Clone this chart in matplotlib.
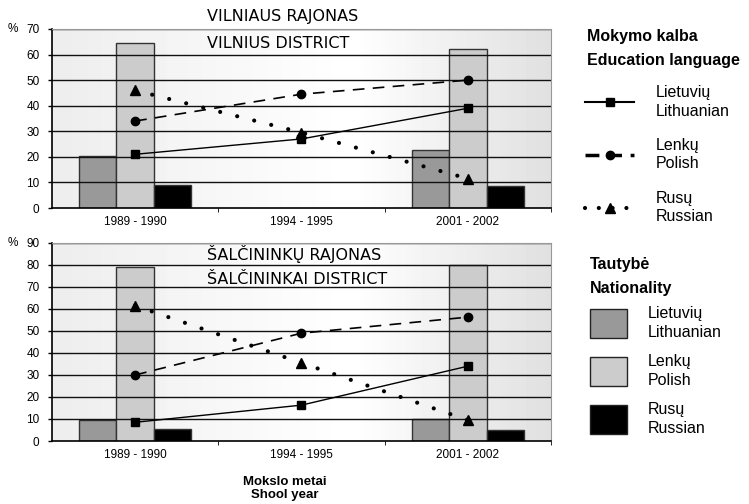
import numpy as np
import matplotlib
matplotlib.use('Agg')
import matplotlib.pyplot as plt
from matplotlib.lines import Line2D
from matplotlib.patches import Patch

plt.rcParams['font.family'] = ['Liberation Sans', 'DejaVu Sans']

years = ['1989 - 1990', '1994 - 1995', '2001 - 2002']

# Vilnius district
vil_lang_lt = [21, 27, 39]
vil_lang_pl = [34, 44.5, 50]
vil_lang_ru = [46, 29.5, 11.5]
vil_nat_lt = [20.5, None, 22.5]
vil_nat_pl = [64.5, None, 62]
vil_nat_ru = [9, None, 8.5]

# Salcininkai district
sal_lang_lt = [8.5, 16.3, 34]
sal_lang_pl = [30, 49, 56.3]
sal_lang_ru = [61.5, 35.5, 9.5]
sal_nat_lt = [9.7, None, 10.2]
sal_nat_pl = [79, None, 79.8]
sal_nat_ru = [5.3, None, 5.1]

bar_colors = ['#999999', '#cccccc', '#000000']
bar_w = 0.225


def draw_panel(ax, lang, nat, ymax, title1, title2, ty1, ty2):
    # soft grey gradient background
    grad = np.concatenate([np.linspace(0.93, 1.0, 60), np.linspace(1.0, 0.88, 40)])
    ax.imshow(np.tile(grad, (2, 1)), cmap='gray', vmin=0, vmax=1, aspect='auto',
              extent=[-0.5, 2.5, 0, ymax], zorder=0)
    x = np.arange(len(years))
    for k, vals in enumerate(nat):
        for i, v in enumerate(vals):
            if v is None:
                continue
            ax.bar(x[i] + (k - 1) * bar_w, v, width=bar_w, color=bar_colors[k],
                   edgecolor='#333333', linewidth=1, zorder=1)
    for yv in range(10, ymax + 1, 10):
        ax.axhline(yv, color='#111111', linewidth=1, zorder=2)
    ax.plot(x, lang[0], color='black', linewidth=1, marker='s', markersize=6, zorder=4)
    ax.plot(x, lang[1], color='black', linewidth=1.2, linestyle=(0, (7, 5)),
            marker='o', markersize=6, zorder=4)
    ax.plot(x, lang[2], color='black', linewidth=3, linestyle=(0, (0.01, 4.2)),
            dash_capstyle='round', marker='^', markersize=7, zorder=4)
    ax.set_xlim(-0.5, 2.5)
    ax.set_ylim(0, ymax)
    ax.set_yticks(range(0, ymax + 1, 10))
    ax.set_xticks(x)
    ax.set_xticklabels(years, fontsize=8.5)
    ax.set_xticks([0.5, 1.5, 2.5], minor=True)
    ax.tick_params(axis='x', which='major', length=0, pad=6)
    ax.tick_params(axis='x', which='minor', length=3, direction='out')
    ax.tick_params(axis='y', labelsize=8.5, length=3, width=1, pad=6)
    for s in ['top', 'right']:
        ax.spines[s].set_color('#999999')
    for s in ['left', 'bottom']:
        ax.spines[s].set_linewidth(1.2)
    ax.text(-0.088, 1.0, '%', transform=ax.transAxes, fontsize=8.5, ha='left', va='center')
    ax.text(0.311, ty1, title1, transform=ax.transAxes, fontsize=11.5,
            family='DejaVu Sans', ha='left', va='center', zorder=5, clip_on=False)
    ax.text(0.311, ty2, title2, transform=ax.transAxes, fontsize=11.5,
            family='DejaVu Sans', ha='left', va='center', zorder=5)


fig = plt.figure(figsize=(7.49, 5.04), dpi=100)
ax1 = fig.add_axes([0.0694, 0.5873, 0.6662, 0.3552])
ax2 = fig.add_axes([0.0694, 0.125, 0.6662, 0.3929])

draw_panel(ax1, [vil_lang_lt, vil_lang_pl, vil_lang_ru],
           [vil_nat_lt, vil_nat_pl, vil_nat_ru], 70,
           'VILNIAUS RAJONAS', 'VILNIUS DISTRICT', 1.07, 0.92)
draw_panel(ax2, [sal_lang_lt, sal_lang_pl, sal_lang_ru],
           [sal_nat_lt, sal_nat_pl, sal_nat_ru], 90,
           'ŠALČININKŲ RAJONAS', 'ŠALČININKAI DISTRICT', 0.944, 0.818)

ax2.set_xlabel('Mokslo metai\nShool year', fontsize=9.5, fontweight='bold')
ax2.xaxis.set_label_coords(0.467, -0.175, transform=ax2.transAxes)
ax2.xaxis.label.set_va('top')

# legend titles
fig.text(0.784, 1 - 37 / 504, 'Mokymo kalba', fontsize=11.5, fontweight='bold', va='center')
fig.text(0.784, 1 - 60 / 504, 'Education language', fontsize=11.5, fontweight='bold', va='center')
fig.text(0.788, 1 - 265 / 504, 'Tautybė', fontsize=11.5, fontweight='bold', va='center')
fig.text(0.788, 1 - 288 / 504, 'Nationality', fontsize=11.5, fontweight='bold', va='center')

lang_labels = ['Lietuvių\nLithuanian', 'Lenkų\nPolish', 'Rusų\nRussian']
line_handles = [
    Line2D([], [], color='black', linewidth=1.5, marker='s', markersize=6),
    Line2D([], [], color='black', linewidth=2.5, linestyle=(0, (4, 2.5)), marker='o', markersize=6),
    Line2D([], [], color='black', linewidth=3, linestyle=(0, (0.01, 3.3)),
           dash_capstyle='round', marker='^', markersize=7),
]
leg1 = fig.legend(line_handles, lang_labels, loc='upper left', bbox_to_anchor=(0.781, 1 - 85 / 504),
                  frameon=False, fontsize=11.5, borderpad=0, borderaxespad=0,
                  handlelength=3.1, handletextpad=1.35, labelspacing=1.2)

patch_handles = [Patch(facecolor=c, edgecolor='#222222', linewidth=1) for c in bar_colors]
leg2 = fig.legend(patch_handles, lang_labels, loc='upper left', bbox_to_anchor=(0.788, 1 - 306 / 504),
                  frameon=False, fontsize=11.5, borderpad=0, borderaxespad=0,
                  handlelength=2.3, handleheight=2.4, handletextpad=1.3, labelspacing=0.9)
for leg in (leg1, leg2):
    for t in leg.get_texts():
        t.set_linespacing(1.3)

fig.savefig('out.png', dpi=100)
